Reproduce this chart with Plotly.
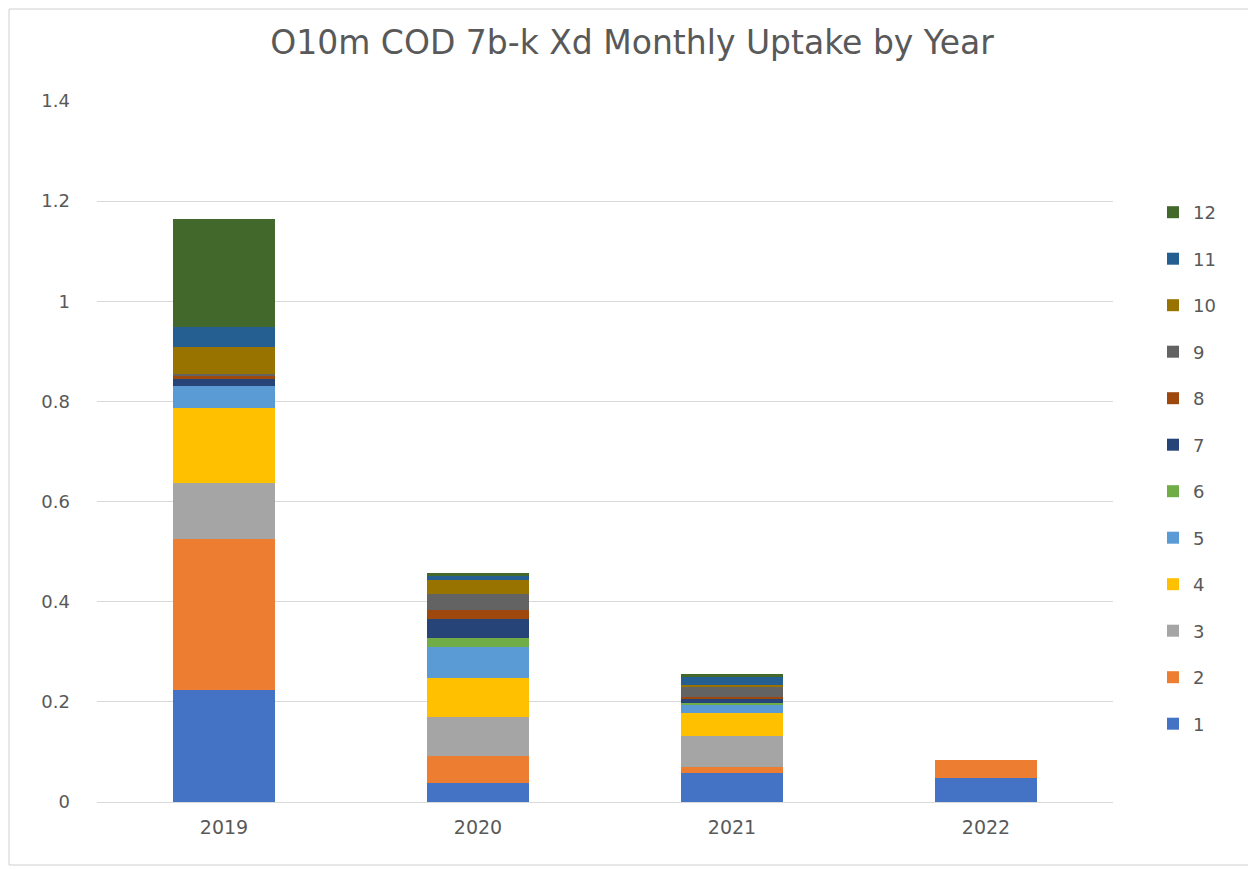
import plotly.graph_objects as go

years = ["2019", "2020", "2021", "2022"]
months = [str(m) for m in range(1, 13)]

# monthly uptake per year (month 1..12)
m1 = [0.224, 0.037, 0.058, 0.047]
m2 = [0.301, 0.055, 0.011, 0.036]
m3 = [0.112, 0.078, 0.063, 0.0]
m4 = [0.149, 0.077, 0.045, 0.0]
m5 = [0.045, 0.063, 0.018, 0.0]
m6 = [0.0, 0.018, 0.002, 0.0]
m7 = [0.014, 0.037, 0.010, 0.0]
m8 = [0.005, 0.018, 0.003, 0.0]
m9 = [0.005, 0.032, 0.020, 0.0]
m10 = [0.054, 0.028, 0.004, 0.0]
m11 = [0.040, 0.009, 0.016, 0.0]
m12 = [0.215, 0.005, 0.005, 0.0]

series = [m1, m2, m3, m4, m5, m6, m7, m8, m9, m10, m11, m12]
colors = ["#4472C4", "#ED7D31", "#A5A5A5", "#FFC000", "#5B9BD5", "#70AD47",
          "#264478", "#9E480E", "#636363", "#997300", "#255E91", "#43682B"]

FONT = "DejaVu Sans, sans-serif"
GREY = "#595959"

# page body adds an 8px margin, so the figure is sized to fit the window
W, H = 1248, 861
L, R, T, B = 89, 143, 93, 67
PW, PH = W - L - R, H - T - B

fig = go.Figure()
for i, (name, vals, col) in enumerate(zip(months, series, colors)):
    fig.add_trace(
        go.Bar(
            x=years,
            y=vals,
            name=name,
            legendgroup=name,
            legendrank=1000 - i,  # month 12 on top, like the stack
            marker=dict(color=col, line=dict(width=0)),
        )
    )

fig.update_layout(
    barmode="stack",
    bargap=0.6,
    width=W,
    height=H,
    margin=dict(l=L, r=R, t=T, b=B, autoexpand=False),
    paper_bgcolor="white",
    plot_bgcolor="white",
    font=dict(family=FONT, color=GREY, size=18),
    title=dict(
        text="O10m COD 7b-k Xd Monthly Uptake by Year",
        x=(632 - 8) / W,
        xanchor="center",
        y=1 - (42 - 8) / H,
        yanchor="middle",
        font=dict(family=FONT, size=33, color=GREY),
    ),
    legend=dict(
        x=(1153 - 8 - L) / PW,
        xanchor="left",
        y=1 - (194 - 8 - T) / PH,
        yanchor="top",
        traceorder="grouped",
        tracegroupgap=20.1,
        font=dict(family=FONT, size=18, color=GREY),
        itemwidth=30,
    ),
    shapes=[
        dict(
            type="rect",
            xref="paper",
            yref="paper",
            x0=(1 - L) / PW,
            x1=(W - 4 - L) / PW,
            y0=-(B - 4) / PH,
            y1=1 + (T - 1) / PH,
            line=dict(color="#D0D0D0", width=1),
            fillcolor="rgba(0,0,0,0)",
        )
    ],
)
fig.update_xaxes(
    showgrid=False,
    showline=True,
    linecolor="#D9D9D9",
    linewidth=1,
    ticks="",
    ticklabelstandoff=8,
    tickfont=dict(size=19, color=GREY),
)
fig.update_yaxes(
    range=[0, 1.4],
    tickvals=[0, 0.2, 0.4, 0.6, 0.8, 1, 1.2, 1.4],
    ticktext=["0", "0.2", "0.4", "0.6", "0.8", "1", "1.2", "1.4"],
    showgrid=True,
    gridcolor="#D9D9D9",
    gridwidth=1,
    zeroline=False,
    ticks="",
    ticklabelstandoff=26,
    tickfont=dict(size=18, color=GREY),
)

fig.write_html("out.html")
